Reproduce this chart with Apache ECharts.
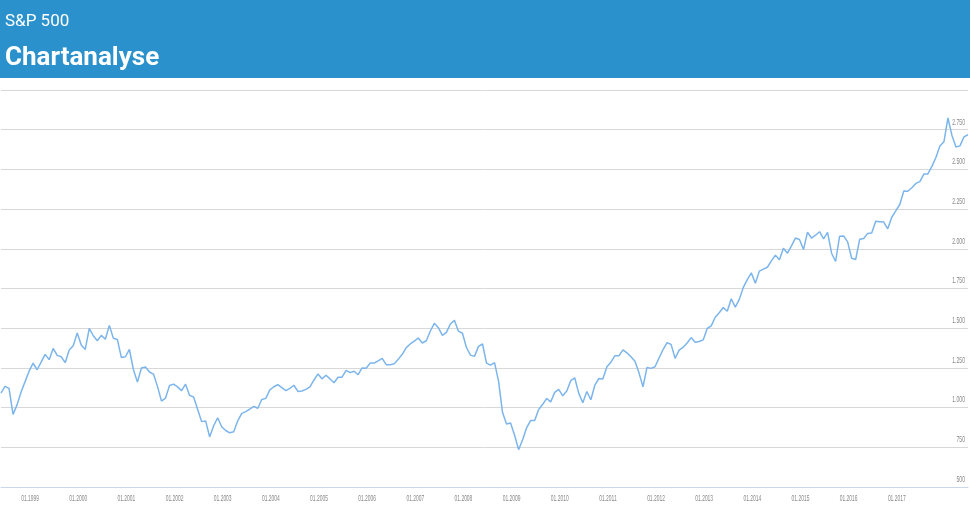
<!DOCTYPE html>
<html>
<head>
<meta charset="utf-8">
<script src="https://cdn.jsdelivr.net/npm/echarts@6/dist/echarts.min.js"></script>
<style>
html,body{margin:0;padding:0;background:#fff;}
#chart{width:970px;height:518px;}
</style>
</head>
<body>
<div id="chart"></div>
<script>
// S&P 500 monthly closes, starting 05.1998
const startYear = 1998, startMonth = 5;
const v1998 = [1090.82,1133.84,1120.67,957.28,1017.01,1098.67,1163.63,1229.23];
const v1999 = [1279.64,1238.33,1286.37,1335.18,1301.84,1372.71,1328.72,1320.41,1282.71,1362.93,1388.91,1469.25];
const v2000 = [1394.46,1366.42,1498.58,1452.43,1420.60,1454.60,1430.83,1517.68,1436.51,1429.40,1314.95,1320.28];
const v2001 = [1366.01,1239.94,1160.33,1249.46,1255.82,1224.38,1211.23,1133.58,1040.94,1059.78,1139.45,1148.08];
const v2002 = [1130.20,1106.73,1147.39,1076.92,1067.14,989.82,911.62,916.07,815.28,885.76,936.31,879.82];
const v2003 = [855.70,841.15,848.18,916.92,963.59,974.50,990.31,1008.01,995.97,1050.71,1058.20,1111.92];
const v2004 = [1131.13,1144.94,1126.21,1107.30,1120.68,1140.84,1101.72,1104.24,1114.58,1130.20,1173.82,1211.92];
const v2005 = [1181.27,1203.60,1180.59,1156.85,1191.50,1191.33,1234.18,1220.33,1228.81,1207.01,1249.48,1248.29];
const v2006 = [1280.08,1280.66,1294.83,1310.61,1270.09,1270.20,1276.66,1303.82,1335.85,1377.94,1400.63,1418.30];
const v2007 = [1438.24,1406.82,1420.86,1482.37,1530.62,1503.35,1455.27,1473.99,1526.75,1549.38,1481.14,1468.36];
const v2008 = [1378.55,1330.63,1322.70,1385.59,1400.38,1280.00,1267.38,1282.83,1166.36,968.75,896.24,903.25];
const v2009 = [825.88,735.09,797.87,872.81,919.14,919.32,987.48,1020.62,1057.08,1036.19,1095.63,1115.10];
const v2010 = [1073.87,1104.49,1169.43,1186.69,1089.41,1030.71,1101.60,1049.33,1141.20,1183.26,1180.55,1257.64];
const v2011 = [1286.12,1327.22,1325.83,1363.61,1345.20,1320.64,1292.28,1218.89,1131.42,1253.30,1246.96,1257.60];
const v2012 = [1312.41,1365.68,1408.47,1397.91,1310.33,1362.16,1379.32,1406.58,1440.67,1412.16,1416.18,1426.19];
const v2013 = [1498.11,1514.68,1569.19,1597.57,1630.74,1606.28,1685.73,1632.97,1681.55,1756.54,1805.81,1848.36];
const v2014 = [1782.59,1859.45,1872.34,1883.95,1923.57,1960.23,1930.67,2003.37,1972.29,2018.05,2067.56,2058.90];
const v2015 = [1994.99,2104.50,2067.89,2085.51,2107.39,2063.11,2103.84,1972.18,1920.03,2079.36,2080.41,2043.94];
const v2016 = [1940.24,1932.23,2059.74,2065.30,2096.95,2098.86,2173.60,2170.95,2168.27,2126.15,2198.81,2238.83];
const v2017 = [2278.87,2363.64,2362.72,2384.20,2411.80,2423.41,2470.30,2471.65,2519.36,2575.26,2647.58,2673.61];
const v2018 = [2823.81,2713.83,2640.87,2648.05,2705.27,2718.37];

const values = [].concat(v1998,v1999,v2000,v2001,v2002,v2003,v2004,v2005,v2006,v2007,v2008,v2009,v2010,v2011,v2012,v2013,v2014,v2015,v2016,v2017,v2018);

const yTicks = {min: 500, max: 3000, interval: 250};
const yTickLabels = ['500','750','1.000','1.250','1.500','1.750','2.000','2.250','2.500','2.750'];
const yTickValues = [500,750,1000,1250,1500,1750,2000,2250,2500,2750];
const xTickLabels = ['01.1999','01.2000','01.2001','01.2002','01.2003','01.2004','01.2005','01.2006','01.2007','01.2008','01.2009','01.2010','01.2011','01.2012','01.2013','01.2014','01.2015','01.2016','01.2017'];

const categories = [];
{
  let y = startYear, m = startMonth;
  for (let i = 0; i < values.length; i++) {
    categories.push(String(m).padStart(2,'0') + '.' + y);
    m++; if (m > 12) { m = 1; y++; }
  }
}

const headerGraphics = [
  {type:'rect', left:0, top:0, shape:{width:970, height:78}, style:{fill:'#2a91cc'}, z:0, silent:true},
  {type:'text', left:5, top:13, style:{text:'S&P 500', fill:'#ffffff', font:'400 17px Roboto'}, z:1},
  {type:'text', left:5, top:45, style:{text:'Chartanalyse', fill:'#ffffff', font:'700 26px Roboto'}, z:1}
];

const chart = echarts.init(document.getElementById('chart'), null, {renderer:'canvas'});
chart.setOption({
  animation: false,
  backgroundColor: '#ffffff',
  graphic: headerGraphics,
  grid: {left:1, right:2, top:90, bottom:31, containLabel:false},
  xAxis: {
    type:'category',
    data: categories,
    boundaryGap:false,
    axisLine:{show:true, lineStyle:{color:'#ccd6eb', width:1}},
    axisTick:{show:false},
    splitLine:{show:false},
    axisLabel:{show:false}
  },
  yAxis: {
    type:'value',
    position:'right',
    min: yTicks.min, max: yTicks.max, interval: yTicks.interval,
    axisLine:{show:false},
    axisTick:{show:false},
    splitLine:{show:true, lineStyle:{color:'#d8d8d8', width:1}},
    axisLabel:{show:false}
  },
  series: [{
    type:'line',
    data: values,
    symbol:'none',
    smooth:false,
    lineStyle:{color:'#7cb5ec', width:1.5},
    itemStyle:{color:'#7cb5ec'}
  }]
});

// Condensed tick labels placed through the axes' own scales
const labelFont = '400 8.5px "Liberation Sans", Arial, sans-serif';
const labelColor = '#888888';
const extra = [];
xTickLabels.forEach(function(lab){
  const px = chart.convertToPixel({xAxisIndex:0}, lab);
  const py = chart.convertToPixel({yAxisIndex:0}, yTicks.min);
  extra.push({type:'text', x:px - 3, y:py + 12, scaleX:0.58, silent:true, z:5,
    style:{text:lab, fill:labelColor, font:labelFont, align:'center', verticalAlign:'middle'}});
});
yTickValues.forEach(function(v, i){
  const py = chart.convertToPixel({yAxisIndex:0}, v);
  extra.push({type:'text', x:965, y:py - 3, scaleX:0.6, silent:true, z:5,
    style:{text:yTickLabels[i], fill:labelColor, font:labelFont, align:'right', verticalAlign:'bottom'}});
});
chart.setOption({graphic: headerGraphics.concat(extra)});
</script>
</body>
</html>
